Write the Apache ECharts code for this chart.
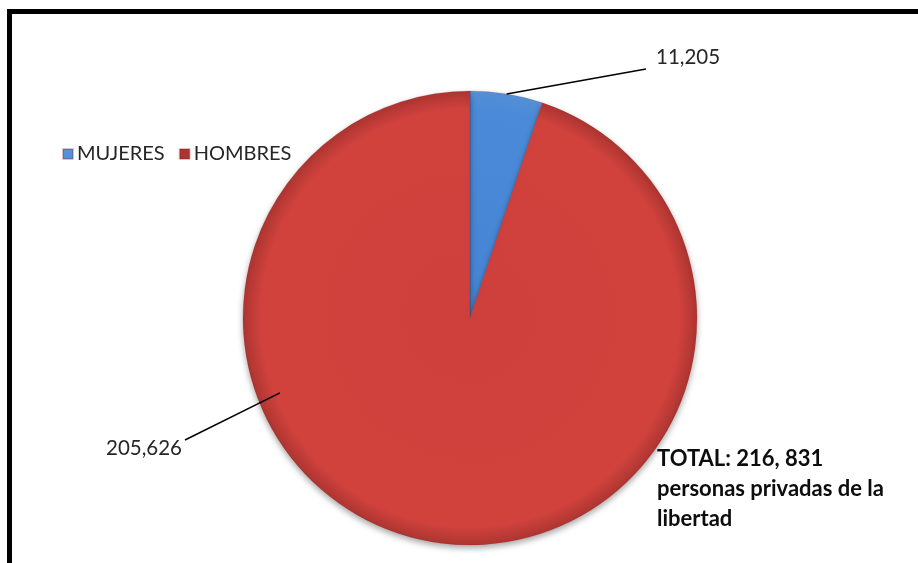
<!DOCTYPE html>
<html>
<head>
<meta charset="utf-8">
<script src="https://cdn.jsdelivr.net/npm/echarts@6/dist/echarts.min.js"></script>
<style>
  html, body { margin: 0; padding: 0; background: #ffffff; }
  #chart { width: 918px; height: 563px; }
</style>
</head>
<body>
<div id="chart"></div>
<script>
// Población privada de la libertad por sexo
const categories = ['MUJERES', 'HOMBRES'];
const values = [11205, 205626];
const valueLabels = ['11,205', '205,626'];
const totalLines = ['TOTAL: 216, 831', 'personas privadas de la', 'libertad'];

const FONT = 'Lato, "Open Sans", sans-serif';
const CX = 470, CY = 318, R = 227;

// point on the pie at a clockwise angle from 12 o'clock, at a fraction of the radius
function pt(angleDeg, frac) {
  const a = angleDeg * Math.PI / 180;
  return [CX + Math.sin(a) * R * frac, CY - Math.cos(a) * R * frac];
}

function shade(inner, mid, edge) {
  return {
    type: 'radial', x: CX, y: CY, r: R, global: true,
    colorStops: [
      { offset: 0, color: inner },
      { offset: 0.92, color: mid },
      { offset: 1, color: edge }
    ]
  };
}
const fills = [
  shade('#4584d2', '#4a8ad8', '#5690d6'),
  shade('#cf403c', '#d1423d', '#ad3531')
];

// label anchors: text position and leader line path
const labelPlaces = [
  { x: 656, y: 57, align: 'left', line: [pt(9.3, 1.0), [646, 69]] },
  { x: 182, y: 448, align: 'right', line: [pt(248.5, 0.9), [185, 440]] }
];

const chart = echarts.init(document.getElementById('chart'), null, { renderer: 'canvas' });
chart.setOption({
  backgroundColor: '#ffffff',
  animation: false,
  legend: {
    left: 57, top: 139,
    icon: 'rect', itemWidth: 10, itemHeight: 10, itemGap: 14,
    textStyle: { fontFamily: FONT, fontSize: 20, color: '#262626', padding: [0, 0, 0, -1] },
    data: categories
  },
  graphic: [
    {
      type: 'rect', silent: true,
      shape: { x: 9.5, y: 11.5, width: 1200, height: 1200 },
      style: { fill: 'none', stroke: '#000000', lineWidth: 5 }
    },
    {
      type: 'text', left: 657, top: 444,
      style: {
        text: totalLines.join('\n'),
        fontFamily: FONT, fontSize: 22, fontWeight: 'bold',
        lineHeight: 30, fill: '#0d0d0d'
      }
    }
  ].concat(labelPlaces.map(lp => ({
    // leader line from inside the slice to its value label
    type: 'polyline', silent: true, z: 10,
    shape: { points: lp.line },
    style: { stroke: '#000000', lineWidth: 1.5, fill: null }
  }))),
  series: [{
    type: 'pie',
    center: [CX, CY],
    radius: R,
    startAngle: 90,
    clockwise: true,
    data: categories.map((name, i) => ({
      name, value: values[i],
      itemStyle: { color: fills[i] }
    })),
    itemStyle: {
      borderColor: 'rgba(120,20,20,0.25)', borderWidth: 0.6,
      shadowBlur: 6, shadowColor: 'rgba(0,0,0,0.35)', shadowOffsetY: 3
    },
    label: {
      show: true,
      formatter: p => valueLabels[p.dataIndex],
      fontFamily: FONT, fontSize: 20.5, color: '#262626'
    },
    labelLine: { show: false },
    labelLayout: p => {
      const lp = labelPlaces[p.dataIndex];
      return { x: lp.x, y: lp.y, align: lp.align, verticalAlign: 'middle' };
    },
    emphasis: { disabled: true }
  }]
});
</script>
</body>
</html>
